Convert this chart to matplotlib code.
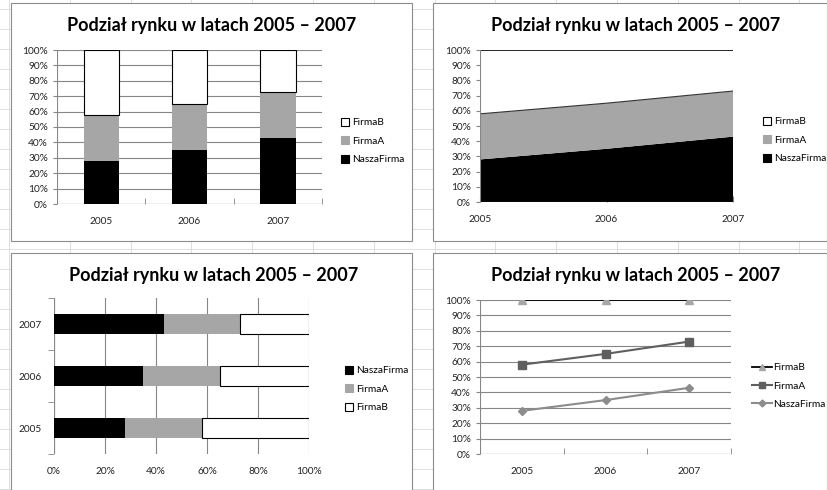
import matplotlib
matplotlib.use("Agg")
import matplotlib.pyplot as plt
from matplotlib.patches import Rectangle, Patch
from matplotlib.lines import Line2D
from matplotlib.ticker import PercentFormatter

W, H = 827, 490

YEARS = ["2005", "2006", "2007"]
NASZA = [28, 35, 43]      # share, %
FIRMA_A = [30, 30, 30]
FIRMA_B = [42, 35, 27]
TITLE = "Podział rynku w latach 2005 – 2007"

BLACK = "#000000"
GRAY = "#A6A6A6"
GRID = "#868686"
SHEET = "#D9D9D9"
FS = 7.3

plt.rcParams["font.family"] = ["Lato", "DejaVu Sans"]
plt.rcParams["font.size"] = FS


def rect(x0, y0, x1, y1):
    # pixel box -> figure fraction [left, bottom, width, height]
    return [x0 / W, 1 - y1 / H, (x1 - x0) / W, (y1 - y0) / H]


def chart_box(fig, x0, y0, x1, y1, title_x, title_y):
    l, b, w, h = rect(x0, y0, x1, y1)
    fig.add_artist(Rectangle((l, b), w, h, transform=fig.transFigure,
                             facecolor="white", edgecolor="#8C8C8C", lw=0.8, zorder=1))
    fig.text(title_x / W, 1 - title_y / H, TITLE, ha="center", va="center",
             fontsize=13, fontweight="bold", zorder=5)


def style_axes(ax):
    for s in ax.spines.values():
        s.set_visible(False)
    ax.tick_params(colors=GRID, labelcolor="#222222", length=3, width=0.8, labelsize=FS)
    ax.set_facecolor("none")
    ax.set_zorder(3)


def legend(ax, handles, labels, x, y):
    ax.legend(handles, labels, loc="center left", frameon=False,
              bbox_to_anchor=(x / W, 1 - y / H), bbox_transform=ax.figure.transFigure,
              handlelength=0.8, handleheight=0.8, handletextpad=0.3, labelspacing=0.9,
              fontsize=FS)


def main():
    fig = plt.figure(figsize=(W / 100, H / 100), dpi=100)
    fig.patch.set_facecolor("white")

    # spreadsheet grid behind the charts
    for i in range(26):
        y = 9 + 20 * i
        fig.add_artist(Line2D([0, 1], [1 - y / H] * 2, transform=fig.transFigure,
                              color=SHEET, lw=0.6, zorder=0))
    for i in range(14):
        x = 9 + 60.8 * i
        fig.add_artist(Line2D([x / W] * 2, [0, 1], transform=fig.transFigure,
                              color=SHEET, lw=0.6, zorder=0))

    x = range(len(YEARS))
    base_a = [n for n in NASZA]
    base_b = [n + a for n, a in zip(NASZA, FIRMA_A)]
    tot_a = base_b
    tot_b = [n + a + b for n, a, b in zip(NASZA, FIRMA_A, FIRMA_B)]

    sq = lambda fc: Patch(facecolor=fc, edgecolor=BLACK if fc == "white" else fc, lw=0.8)

    # --- top left: stacked column 100%
    chart_box(fig, 11, 3, 412, 241, 212, 25)
    ax = fig.add_axes(rect(57, 50, 322, 204))
    style_axes(ax)
    ax.bar(x, NASZA, 0.4, color=BLACK, zorder=3)
    ax.bar(x, FIRMA_A, 0.4, bottom=base_a, color=GRAY, zorder=3)
    ax.bar(x, FIRMA_B, 0.4, bottom=base_b, color="white", edgecolor=BLACK, lw=0.8, zorder=3)
    ax.set_xlim(-0.5, 2.5)
    ax.set_ylim(0, 100)
    ax.set_yticks(range(0, 101, 10))
    ax.yaxis.set_major_formatter(PercentFormatter(decimals=0))
    ax.set_xticks(x, YEARS)
    ax.set_xticks([-0.5, 0.5, 1.5, 2.5], minor=True)
    ax.tick_params(axis="x", which="major", length=0, pad=9)
    ax.tick_params(axis="x", which="minor", length=4, color=GRID, direction="in")
    ax.grid(axis="y", color=GRID, lw=0.8, zorder=0)
    ax.axhline(0, color=GRID, lw=0.8)
    ax.axvline(-0.5, color=GRID, lw=0.8)
    legend(ax, [sq("white"), sq(GRAY), sq(BLACK)], ["FirmaB", "FirmaA", "NaszaFirma"], 332, 141)

    # --- top right: stacked area 100%
    chart_box(fig, 433, 3, 827, 241, 636, 25)
    ax = fig.add_axes(rect(480, 50, 733, 202))
    style_axes(ax)
    ax.stackplot(x, NASZA, FIRMA_A, FIRMA_B, colors=[BLACK, GRAY, "white"], zorder=2)
    ax.plot(x, tot_a, color="#333333", lw=0.8, zorder=3)
    ax.plot(x, tot_b, color=BLACK, lw=1.2, zorder=3)
    ax.set_xlim(0, 2)
    ax.set_ylim(0, 100)
    ax.set_yticks(range(0, 101, 10))
    ax.yaxis.set_major_formatter(PercentFormatter(decimals=0))
    ax.set_xticks(x, YEARS)
    ax.tick_params(axis="x", length=4, direction="in", pad=9)
    ax.axhline(0, color=GRID, lw=0.8, zorder=4)
    ax.axvline(0, color=GRID, lw=0.8, zorder=4)
    legend(ax, [sq("white"), sq(GRAY), sq(BLACK)], ["FirmaB", "FirmaA", "NaszaFirma"], 754, 140)

    # --- bottom left: stacked bar 100%
    chart_box(fig, 11, 253, 412, 495, 214, 276)
    ax = fig.add_axes(rect(54, 298, 309, 454))
    style_axes(ax)
    ax.barh(x, NASZA, 0.4, color=BLACK, zorder=3)
    ax.barh(x, FIRMA_A, 0.4, left=base_a, color=GRAY, zorder=3)
    ax.barh(x, FIRMA_B, 0.4, left=base_b, color="white", edgecolor=BLACK, lw=0.8, zorder=3)
    ax.set_ylim(-0.5, 2.5)
    ax.set_xlim(0, 100)
    ax.set_xticks(range(0, 101, 20))
    ax.xaxis.set_major_formatter(PercentFormatter(decimals=0))
    ax.set_yticks(x, YEARS)
    ax.set_yticks([-0.5, 0.5, 1.5, 2.5], minor=True)
    ax.tick_params(axis="y", which="major", length=0, pad=9)
    ax.tick_params(axis="y", which="minor", length=4, color=GRID)
    ax.tick_params(axis="x", length=0, pad=9)
    ax.grid(axis="x", color=GRID, lw=0.8, zorder=0)
    ax.axvline(0, color=GRID, lw=0.8)
    legend(ax, [sq(BLACK), sq(GRAY), sq("white")], ["NaszaFirma", "FirmaA", "FirmaB"], 336, 389)

    # --- bottom right: stacked line 100%
    chart_box(fig, 433, 253, 827, 495, 636, 276)
    ax = fig.add_axes(rect(480, 300, 731, 454))
    style_axes(ax)
    ax.plot(x, tot_b, color=BLACK, lw=1.3, marker="^", ms=6, mfc=GRAY, mec=GRAY, zorder=4)
    ax.plot(x, tot_a, color="#5F5F5F", lw=1.5, marker="s", ms=6, mfc="#5F5F5F", mec="#5F5F5F", zorder=4)
    ax.plot(x, NASZA, color="#8C8C8C", lw=1.5, marker="D", ms=4.5, mfc="#8C8C8C", mec="#8C8C8C", zorder=4)
    ax.set_xlim(-0.5, 2.5)
    ax.set_ylim(0, 100)
    ax.set_yticks(range(0, 101, 10))
    ax.yaxis.set_major_formatter(PercentFormatter(decimals=0))
    ax.set_xticks(x, YEARS)
    ax.set_xticks([-0.5, 0.5, 1.5, 2.5], minor=True)
    ax.tick_params(axis="x", which="major", length=0, pad=9)
    ax.tick_params(axis="x", which="minor", length=4, color=GRID, direction="in")
    ax.grid(axis="y", color=GRID, lw=0.8, zorder=0)
    ax.axhline(0, color=GRID, lw=0.8)
    ax.axvline(-0.5, color=GRID, lw=0.8)
    lh = [Line2D([], [], color=BLACK, lw=1.3, marker="^", ms=5, mfc=GRAY, mec=GRAY),
          Line2D([], [], color="#5F5F5F", lw=1.5, marker="s", ms=5, mfc="#5F5F5F", mec="#5F5F5F"),
          Line2D([], [], color="#8C8C8C", lw=1.5, marker="D", ms=3.5, mfc="#8C8C8C", mec="#8C8C8C")]
    ax.legend(lh, ["FirmaB", "FirmaA", "NaszaFirma"], loc="center left", frameon=False,
              bbox_to_anchor=(743 / W, 1 - 386 / H), bbox_transform=fig.transFigure,
              handlelength=2.0, handletextpad=0.1, labelspacing=0.9, fontsize=FS)

    fig.savefig("out.png", dpi=100)


if __name__ == "__main__":
    main()
